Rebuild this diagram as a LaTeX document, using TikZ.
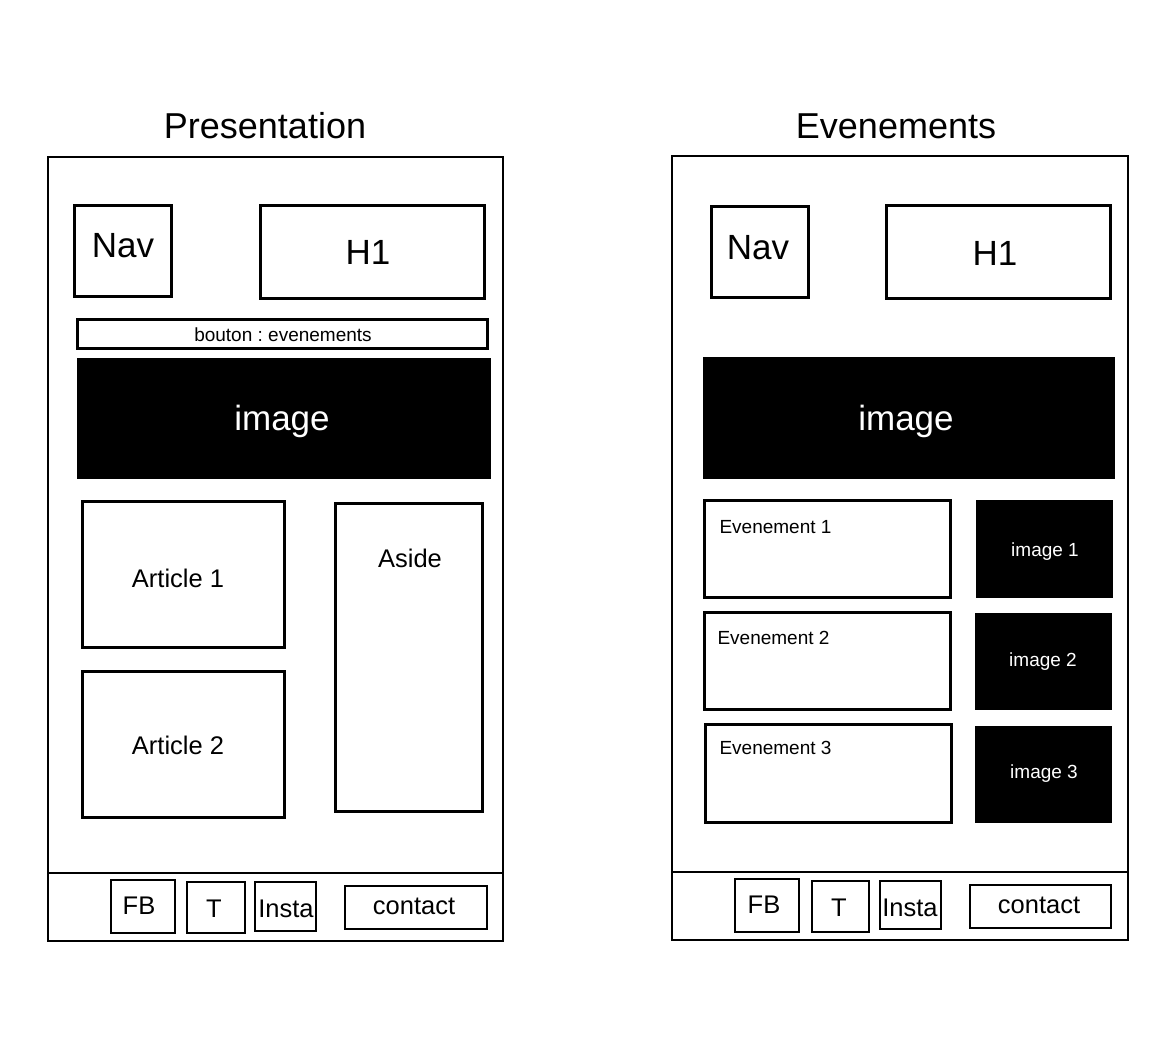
\documentclass[tikz,border=0pt]{standalone}
\usepackage{fontspec}
\setmainfont{Liberation Sans}
\usetikzlibrary{fit}
\frenchspacing

\newcommand{\fs}[1]{\fontsize{#1}{#1}\selectfont}

\tikzset{
  page/.style={draw, line width=1.5pt, inner sep=0pt},
  block/.style={draw, line width=3pt, inner sep=0pt},
  thin/.style={draw, line width=1.4pt, inner sep=0pt},
  photo/.style={draw=black, fill=black, text=white, line width=1pt, inner sep=0pt},
  title/.style={font=\fs{36}},
  big/.style={font=\fs{35}},
  mid/.style={font=\fs{25.5}},
  small/.style={font=\fs{19}},
}

\begin{document}
\begin{tikzpicture}[x=1pt, y=-1pt]
\useasboundingbox (0,0) rectangle (1172,1049);
\fill[white] (0,0) rectangle (1172,1049);

% ---------- Presentation page ----------
\node[title] (titleA) at (265,126) {Presentation};
\node[page, fit={(48,157) (503,941)}] (pageA) {};
\coordinate (footA) at (0,873);
\draw[line width=1.5pt] (pageA.west |- footA) -- (pageA.east |- footA);

\node[block, fit={(74,205) (171,296)}] (navA) {};
\node[big] (navAt) at (123,246) {Nav};
\node[block, fit={(260,205) (484,298)}] (hA) {};
\node[big] (hAt) at (368,252) {H1};
\node[block, fit={(77,319) (487,348)}] (btnA) {};
\node[small] (btnAt) at (283,335) {bouton : evenements};
\node[photo, fit={(77,358) (490,478)}] (imgA) {};
\node[big, text=white] (imgAt) at (282,421) {image};

\node[block, fit={(82,501) (284,647)}] (art1) {};
\node[mid] (art1t) at (178,578) {Article 1};
\node[block, fit={(82,671) (284,817)}] (art2) {};
\node[mid] (art2t) at (178,745) {Article 2};
\node[block, fit={(335,503) (482,811)}] (aside) {};
\node[mid] (asidet) at (410,558) {Aside};

\node[thin, fit={(111,880) (175,933)}] (fbA) {};
\node[mid] (fbAt) at (139,906) {FB};
\node[thin, fit={(187,882) (245,933)}] (tA) {};
\node[mid] (tAt) at (214,909) {T};
\node[thin, fit={(255,882) (316,931)}] (instaA) {};
\node[mid] (instaAt) at (286,909) {Insta};
\node[thin, fit={(345,886) (487,929)}] (contactA) {};
\node[mid] (contactAt) at (414,906) {contact};

% ---------- Evenements page ----------
\node[title] (titleB) at (896,126) {Evenements};
\node[page, fit={(672,156) (1128,940)}] (pageB) {};
\coordinate (footB) at (0,872);
\draw[line width=1.5pt] (pageB.west |- footB) -- (pageB.east |- footB);

\node[block, fit={(711,206) (808,297)}] (navB) {};
\node[big] (navBt) at (758,248) {Nav};
\node[block, fit={(886,205) (1110,298)}] (hB) {};
\node[big] (hBt) at (995,253) {H1};
\node[photo, fit={(703,357) (1114,478)}] (imgB) {};
\node[big, text=white] (imgBt) at (906,421) {image};

\node[block, fit={(704,500) (950,597)}] (ev1) {};
\node[small, anchor=west] (ev1t) at (716,527) {Evenement 1};
\node[photo, fit={(976,500) (1112,597)}] (im1) {};
\node[small, text=white] (im1t) at (1045,552) {image 1};

\node[block, fit={(704,612) (950,709)}] (ev2) {};
\node[small, anchor=west] (ev2t) at (714,638) {Evenement 2};
\node[photo, fit={(975,613) (1111,709)}] (im2) {};
\node[small, text=white] (im2t) at (1043,662) {image 2};

\node[block, fit={(705,724) (951,822)}] (ev3) {};
\node[small, anchor=west] (ev3t) at (716,748) {Evenement 3};
\node[photo, fit={(975,726) (1111,822)}] (im3) {};
\node[small, text=white] (im3t) at (1044,774) {image 3};

\node[thin, fit={(735,879) (799,932)}] (fbB) {};
\node[mid] (fbBt) at (764,905) {FB};
\node[thin, fit={(812,881) (869,932)}] (tB) {};
\node[mid] (tBt) at (839,908) {T};
\node[thin, fit={(880,881) (941,929)}] (instaB) {};
\node[mid] (instaBt) at (910,908) {Insta};
\node[thin, fit={(970,885) (1111,928)}] (contactB) {};
\node[mid] (contactBt) at (1039,905) {contact};
\end{tikzpicture}
\end{document}
